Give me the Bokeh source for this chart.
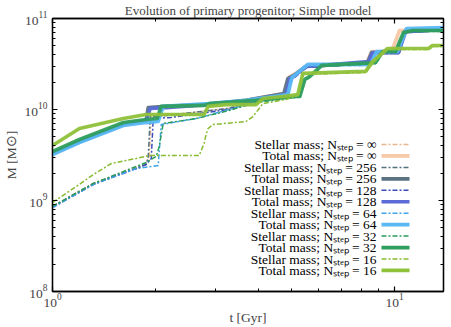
from bokeh.plotting import figure
from bokeh.models import FixedTicker, LogAxis, Label, Arrow, Range1d
from bokeh.embed import file_html
from bokeh.resources import INLINE

# ---------------- data ----------------
# Total masses (thick lines)
t_tot_inf = [1.0, 1.199, 1.611, 1.879, 1.918, 2.149, 2.812, 3.678, 4.779, 4.909, 5.145, 5.502, 8.287, 8.570, 9.802, 10.34, 13.9]
M_tot_inf = [3.28e9, 4.45e9, 6.84e9, 7.57e9, 1.03e10, 1.08e10, 1.13e10, 1.26e10, 1.50e10, 2.25e10, 2.49e10, 2.97e10, 3.28e10, 4.34e10, 4.34e10, 7.38e10, 7.57e10]

t_tot_256 = [1.0, 1.199, 1.611, 1.879, 1.905, 2.149, 2.812, 3.678, 4.748, 4.876, 5.076, 5.502, 8.343, 8.570, 10.27, 10.70, 13.9]
M_tot_256 = [3.28e9, 4.45e9, 6.84e9, 7.57e9, 1.05e10, 1.08e10, 1.13e10, 1.26e10, 1.50e10, 2.19e10, 2.37e10, 2.97e10, 3.28e10, 4.23e10, 4.23e10, 7.19e10, 7.57e10]

t_tot_128 = [1.0, 1.199, 1.611, 1.879, 1.931, 2.149, 2.812, 3.678, 4.811, 4.943, 5.076, 5.502, 8.400, 8.628, 10.27, 10.77, 13.9]
M_tot_128 = [3.28e9, 4.45e9, 6.84e9, 7.57e9, 1.03e10, 1.05e10, 1.13e10, 1.22e10, 1.46e10, 2.19e10, 2.31e10, 2.97e10, 3.36e10, 4.23e10, 4.23e10, 7.19e10, 7.57e10]

t_tot_64 = [1.0, 1.199, 1.611, 1.879, 2.037, 2.107, 2.869, 3.678, 4.876, 5.010, 5.145, 5.577, 8.511, 8.862, 10.20, 10.84, 13.9]
M_tot_64 = [3.20e9, 4.34e9, 6.67e9, 7.19e9, 7.38e9, 1.08e10, 1.16e10, 1.26e10, 1.46e10, 2.25e10, 2.43e10, 3.13e10, 3.13e10, 4.34e10, 4.34e10, 7.76e10, 7.96e10]

t_tot_32 = [1.0, 1.199, 1.611, 1.879, 2.023, 2.079, 2.774, 2.869, 3.933, 5.145, 5.284, 5.466, 5.653, 6.127, 8.803, 9.226, 10.07, 10.62, 11.28, 13.9]
M_tot_32 = [3.45e9, 4.68e9, 7.19e9, 7.76e9, 7.96e9, 1.08e10, 1.11e10, 1.16e10, 1.26e10, 1.39e10, 1.39e10, 2.14e10, 2.31e10, 3.05e10, 3.28e10, 4.34e10, 4.34e10, 7.02e10, 7.38e10, 7.38e10]

t_tot_16 = [1.0, 1.199, 1.611, 1.879, 2.774, 2.850, 3.216, 3.933, 4.123, 4.716, 5.214, 5.392, 8.233, 8.628, 9.541, 12.57, 12.91, 13.9]
M_tot_16 = [4.02e9, 6.18e9, 7.96e9, 8.81e9, 8.81e9, 1.08e10, 1.13e10, 1.13e10, 1.32e10, 1.39e10, 1.46e10, 2.49e10, 2.62e10, 3.36e10, 4.68e10, 4.68e10, 5.05e10, 5.05e10]

# Stellar masses (dash-dot lines)
t_st_inf = [1.0, 1.317, 1.758, 1.879, 1.918, 1.944, 2.149, 3.281, 3.933, 4.811, 4.943, 5.145, 5.539, 8.287, 8.570, 9.802, 10.34, 13.9]
M_st_inf = [8.6e8, 1.54e9, 2.31e9, 2.55e9, 3.05e9, 8.37e9, 8.59e9, 1.03e10, 1.26e10, 1.43e10, 2.19e10, 2.43e10, 2.90e10, 3.20e10, 4.12e10, 4.23e10, 7.19e10, 7.38e10]

t_st_256 = [1.0, 1.317, 1.758, 1.879, 1.905, 1.931, 2.149, 3.281, 3.933, 4.811, 4.876, 5.076, 5.502, 8.343, 8.570, 10.27, 10.70, 13.9]
M_st_256 = [8.6e8, 1.54e9, 2.25e9, 2.49e9, 3.05e9, 8.37e9, 8.59e9, 1.03e10, 1.26e10, 1.43e10, 2.14e10, 2.31e10, 2.90e10, 3.20e10, 4.12e10, 4.12e10, 7.02e10, 7.38e10]

t_st_128 = [1.0, 1.317, 1.758, 1.879, 1.944, 1.970, 2.223, 3.281, 3.933, 4.843, 4.976, 5.110, 5.539, 8.400, 8.628, 10.27, 10.77, 13.9]
M_st_128 = [8.38e8, 1.50e9, 2.25e9, 2.49e9, 2.90e9, 7.96e9, 8.17e9, 1.00e10, 1.22e10, 1.43e10, 2.14e10, 2.25e10, 2.90e10, 3.20e10, 4.12e10, 4.12e10, 7.02e10, 7.38e10]

t_st_64 = [1.0, 1.317, 1.758, 1.970, 2.037, 2.079, 2.630, 3.281, 3.933, 4.876, 5.010, 5.145, 5.577, 8.511, 8.862, 10.20, 10.84, 13.9]
M_st_64 = [8.38e8, 1.50e9, 2.25e9, 2.37e9, 2.43e9, 6.84e9, 7.96e9, 1.00e10, 1.22e10, 1.43e10, 2.19e10, 2.37e10, 3.05e10, 3.05e10, 4.23e10, 4.23e10, 7.57e10, 7.76e10]

t_st_32 = [1.0, 1.317, 1.758, 1.879, 2.010, 2.051, 2.107, 2.630, 3.281, 3.933, 5.145, 5.284, 5.466, 5.653, 6.127, 8.803, 9.226, 10.07, 10.62, 11.28, 13.9]
M_st_32 = [8.6e8, 1.54e9, 2.37e9, 2.62e9, 3.05e9, 3.92e9, 7.02e9, 7.96e9, 9.75e9, 1.19e10, 1.36e10, 1.36e10, 2.08e10, 2.25e10, 2.97e10, 3.20e10, 4.23e10, 4.23e10, 6.84e10, 7.19e10, 7.19e10]

t_st_16 = [1.0, 1.175, 1.317, 1.486, 1.758, 1.918, 2.684, 2.774, 2.812, 2.850, 2.947, 3.678, 3.855, 4.123, 4.811, 5.214, 5.392, 8.233, 8.628, 9.541, 12.57, 12.91, 13.9]
M_st_16 = [9.5e8, 1.43e9, 1.93e9, 2.55e9, 2.90e9, 3.12e9, 3.12e9, 4.23e9, 5.31e9, 6.18e9, 6.84e9, 7.38e9, 8.37e9, 1.16e10, 1.29e10, 1.43e10, 2.43e10, 2.55e10, 3.28e10, 4.56e10, 4.56e10, 4.92e10, 4.92e10]

legend_labels = [
    "Stellar mass; Nₛₜₑₚ = ∞", "Total mass; Nₛₜₑₚ = ∞",
    "Stellar mass; Nₛₜₑₚ = 256", "Total mass; Nₛₜₑₚ = 256",
    "Stellar mass; Nₛₜₑₚ = 128", "Total mass; Nₛₜₑₚ = 128",
    "Stellar mass; Nₛₜₑₚ = 64", "Total mass; Nₛₜₑₚ = 64",
    "Stellar mass; Nₛₜₑₚ = 32", "Total mass; Nₛₜₑₚ = 32",
    "Stellar mass; Nₛₜₑₚ = 16", "Total mass; Nₛₜₑₚ = 16",
]
x_major_ticks = [1, 10]
y_major_ticks = [1e8, 1e9, 1e10, 1e11]
title_text = "Evolution of primary progenitor; Simple model"
x_label = "t [Gyr]"
y_label = "M [M⊙]"

# ---------------- styles ----------------
FONT = "Liberation Serif"
series = [
    (t_st_inf, M_st_inf, "#e8b68f", "stellar"),
    (t_tot_inf, M_tot_inf, "#f6c9a8", "total"),
    (t_st_256, M_st_256, "#55707f", "stellar"),
    (t_tot_256, M_tot_256, "#5b7282", "total"),
    (t_st_128, M_st_128, "#3b4bbd", "stellar"),
    (t_tot_128, M_tot_128, "#5b6bd6", "total"),
    (t_st_64, M_st_64, "#3ea3ea", "stellar"),
    (t_tot_64, M_tot_64, "#5ab8f4", "total"),
    (t_st_32, M_st_32, "#2a9b59", "stellar"),
    (t_tot_32, M_tot_32, "#2f9e5e", "total"),
    (t_st_16, M_st_16, "#88bb30", "stellar"),
    (t_tot_16, M_tot_16, "#8fc13a", "total"),
]
DASH = "5 2 2 2"
FW, FH = 391, 273

p = figure(frame_width=FW, frame_height=FH, x_axis_type="log", y_axis_type="log",
           x_range=Range1d(1.0, 13.9), y_range=Range1d(1e8, 1e11),
           output_backend="svg", toolbar_location=None,
           min_border_left=48, min_border_right=4, min_border_top=0, min_border_bottom=0)

p.title.text = title_text
p.title.text_font = FONT
p.title.text_font_size = "13px"
p.title.text_font_style = "normal"
p.title.align = "center"
p.title.standoff = 1
p.title.offset = 0

p.grid.visible = False
p.outline_line_color = "black"
p.outline_line_width = 1.3
p.background_fill_color = "white"

minor_x = [2, 3, 4, 5, 6, 7, 8, 9, 20]
minor_y = [m * 10 ** e for e in (8, 9, 10) for m in range(2, 10)]

def style_axis(ax, minor, major, show_labels):
    ax.ticker = FixedTicker(ticks=major, minor_ticks=minor)
    ax.major_tick_in = 5
    ax.major_tick_out = 0
    ax.minor_tick_in = 3
    ax.minor_tick_out = 0
    ax.axis_line_color = "black"
    ax.axis_line_width = 1.3
    ax.major_tick_line_width = 1.2
    ax.minor_tick_line_width = 1.0
    ax.major_label_text_font = FONT
    if show_labels:
        ax.major_label_text_font_size = "13.5px"
    else:
        ax.major_label_text_font_size = "1px"
        ax.major_label_text_alpha = 0
        ax.major_label_standoff = 0
    ax.axis_label_text_font = FONT
    ax.axis_label_text_font_size = "13.5px"
    ax.axis_label_text_font_style = "normal"

style_axis(p.xaxis[0], minor_x, x_major_ticks, True)
style_axis(p.yaxis[0], minor_y, y_major_ticks, True)
p.xaxis[0].axis_label = x_label
p.yaxis[0].axis_label = y_label
p.xaxis[0].major_label_standoff = 2
p.xaxis[0].axis_label_standoff = 0
p.yaxis[0].major_label_standoff = 5
p.yaxis[0].axis_label_standoff = 3

top = LogAxis()
right = LogAxis()
style_axis(top, minor_x, x_major_ticks, False)
style_axis(right, minor_y, y_major_ticks, False)
p.add_layout(top, "above")
p.add_layout(right, "right")

for t, M, col, kind in series:
    if kind == "total":
        p.line(t, M, line_color=col, line_width=3.7, line_alpha=0.95, line_join="round")
    else:
        p.line(t, M, line_color=col, line_width=1.5, line_dash=DASH)

# custom legend (labels right-aligned, samples to the right), in screen units
for i, (lab, (t, M, col, kind)) in enumerate(zip(legend_labels, series)):
    sy = 147 - 11.45 * i
    p.add_layout(Label(x=324, y=sy, x_units="screen", y_units="screen", text=lab,
                       text_align="right", text_baseline="middle",
                       text_font=FONT, text_font_size="13.5px", text_color="black"))
    if kind == "total":
        p.add_layout(Arrow(end=None, x_start=329, y_start=sy, x_end=357, y_end=sy,
                           start_units="screen", end_units="screen",
                           line_color=col, line_width=3.7))
    else:
        p.add_layout(Arrow(end=None, x_start=329, y_start=sy, x_end=357, y_end=sy,
                           start_units="screen", end_units="screen",
                           line_color=col, line_width=1.5, line_dash=DASH))

open("out.html", "w").write(file_html(p, INLINE))
